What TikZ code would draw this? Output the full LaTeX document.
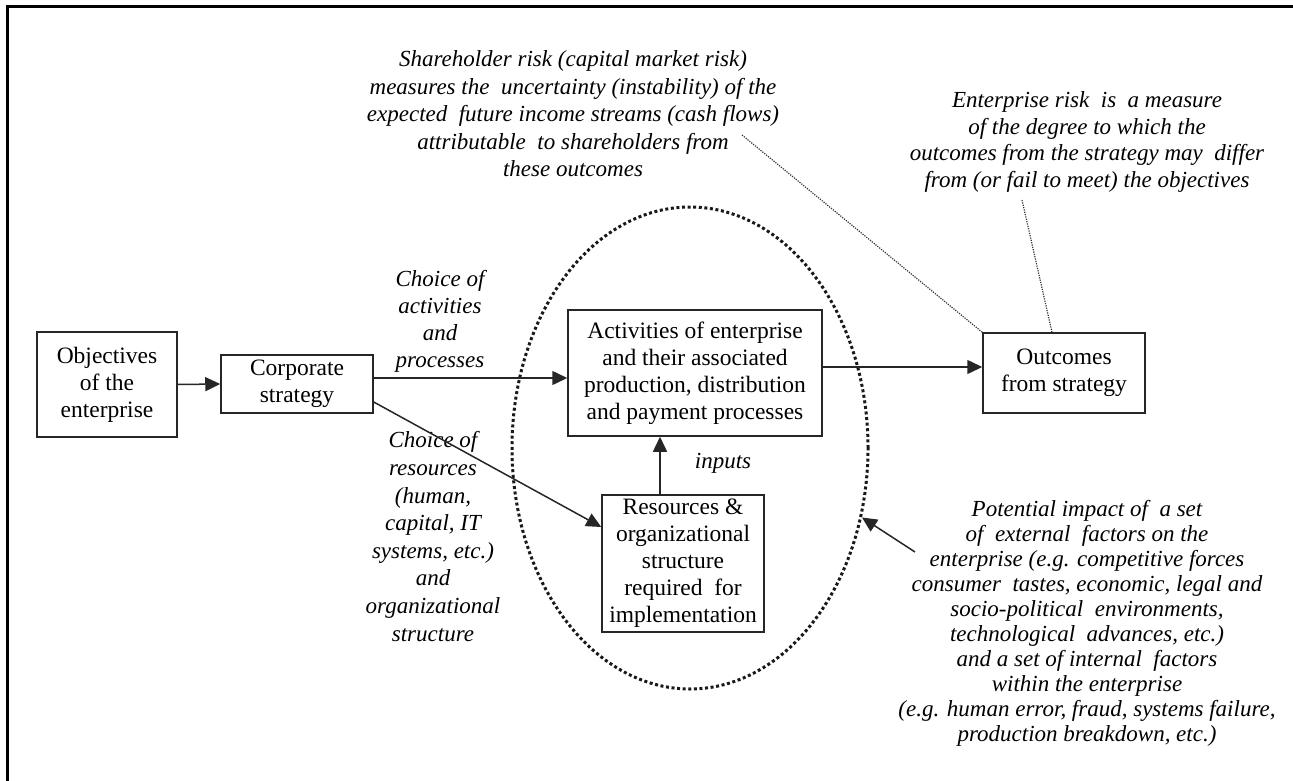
\documentclass[tikz,border=0pt]{standalone}
\usepackage{fontspec}
\setmainfont{Liberation Serif}
\usetikzlibrary{shapes.geometric,arrows.meta,calc}
\begin{document}
\begin{tikzpicture}[x=1pt,y=-1pt,
  box/.style={draw=black!85, line width=1.5pt, inner sep=0pt, align=center,
              font=\fontsize{23.5}{27}\selectfont},
  note/.style={align=center, inner sep=0pt, font=\fontsize{23}{27.5}\selectfont\itshape},
  flow/.style={draw=black!85, line width=1.5pt, -{Triangle[length=15pt,width=14pt]}},
  link/.style={draw=black!80, line width=1.2pt, dash pattern=on 1.2pt off 1.2pt},
  zone/.style={ellipse, draw=black!90, line width=3pt, dash pattern=on 3pt off 2.6pt, inner sep=0pt}]
\useasboundingbox (0,0) rectangle (1293,781);

% page frame: top and left rules only
\draw[line width=3pt] (7,781) -- (7,7) -- (1293,7);

% dotted boundary round the enterprise
\node[zone, minimum width=356pt, minimum height=482pt] (ell) at (690,448) {};

% boxes
\node[box, minimum width=140pt, minimum height=105pt] (obj) at (107,384.5)
  {Objectives\\ of the\\ enterprise};
\node[box, minimum width=152pt, minimum height=58pt] (corp) at (297,384)
  {Corporate\\ strategy};
\node[box, minimum width=254pt, minimum height=126pt] (act) at (695,373)
  {Activities of enterprise\\ and their associated\\ production, distribution\\ and payment processes};
\node[box, minimum width=162pt, minimum height=137pt] (res) at (683,563.5)
  {Resources \&\\ organizational\\ structure\\ required\ \ for\\ implementation};
\node[box, minimum width=162pt, minimum height=80pt] (out) at (1064,373)
  {Outcomes\\ from strategy};

% annotations
\node[note] (share) at (573,114)
  {Shareholder risk (capital market risk)\\ measures the\ \ uncertainty (instability) of the\\
   expected\ \ future income streams (cash flows)\\ attributable\ \ to shareholders from\\ these outcomes};
\node[note, font=\fontsize{23}{26.7}\selectfont\itshape] (erisk) at (1087,142)
  {Enterprise risk\ \ is\ \ a measure\\ of the degree to which the\\
   outcomes from the strategy may\ \ differ\\ from (or fail to meet) the objectives};
\node[note, font=\fontsize{23}{27}\selectfont\itshape] (chact) at (440,321)
  {Choice of\\ activities\\ and\\ processes};
\node[note, font=\fontsize{23}{27.6}\selectfont\itshape] (chres) at (433,536.5)
  {Choice of\\ resources\\ (human,\\ capital, IT\\ systems, etc.)\\ and\\ organizational\\ structure};
\node[note] (inp) at (723,463) {inputs};
\node[note, font=\fontsize{23}{25}\selectfont\itshape] (impact) at (1087,623)
  {Potential impact of\ \ a set\\ of\ \ external\ \ factors on the\\
   enterprise (e.g. competitive forces\\ consumer\ \ tastes, economic, legal and\\
   socio-political\ \ environments,\\ technological\ \ advances, etc.)\\
   and a set of internal\ \ factors\\ within the enterprise\\
   (e.g. human error, fraud, systems failure,\\ production breakdown, etc.)};

% flows
\draw[flow] (obj.east) -- (corp.west);
\coordinate (c1) at ($(corp.east)+(0,-6)$);
\draw[flow] (c1) -- (c1 -| act.west);
\coordinate (c2) at ($(corp.east)+(0,18)$);
\draw[flow] (c2) -- ($(res.west)+(0,-36.5)$);
\coordinate (c3) at ($(res.north)+(-23,0)$);
\draw[flow] (c3) -- (c3 |- act.south);
\coordinate (c4) at ($(act.east)+(0,-6)$);
\draw[flow] (c4) -- (c4 -| out.west);
\coordinate (c5) at (915,552);
\draw[flow] (c5) -- (ell.-22.7);

% leader lines from the risk notes
\coordinate (s1) at (742,135);
\draw[link] (s1) -- (out.north west);
\coordinate (e1) at (1022,200);
\draw[link] (e1) -- ($(out.north)+(-12,0)$);
\end{tikzpicture}
\end{document}
